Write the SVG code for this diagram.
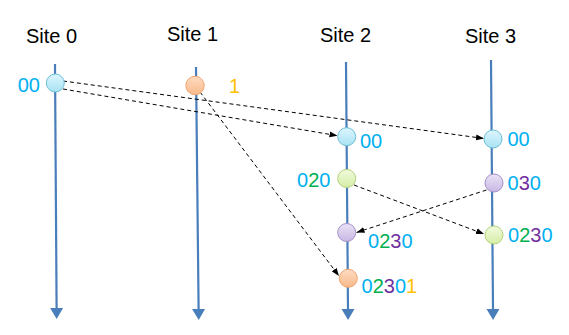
<svg xmlns="http://www.w3.org/2000/svg" width="569" height="335" viewBox="0 0 569 335">
<style>
.title{font-family:"Liberation Sans",Arial,sans-serif;font-size:20px;fill:#000}
.lbl{font-family:"Liberation Sans",Arial,sans-serif;font-size:20px}
.c0{fill:#00B0F0}.c1{fill:#FFC000}.c2{fill:#00B050}.c3{fill:#7030A0}
.tl{stroke:#4A7EBB;stroke-width:2.2;fill:none;marker-end:url(#blueArrow)}
.msg{stroke:#000;stroke-width:1;stroke-dasharray:4 3;fill:none;marker-end:url(#blackArrow)}
.nb{fill:url(#gBlue);stroke:#6CBFD6;stroke-width:1}
.no{fill:url(#gOrange);stroke:#F2A46E;stroke-width:1}
.ng{fill:url(#gGreen);stroke:#B2D27A;stroke-width:1}
.np{fill:url(#gPurple);stroke:#A58FC8;stroke-width:1}
</style>
<defs>
<marker id="blueArrow" markerUnits="userSpaceOnUse" markerWidth="12" markerHeight="14" refX="0" refY="6.5" orient="auto" viewBox="0 0 12 13">
<path d="M0,0 L11,6.5 L0,13 z" fill="#4A7EBB"/>
</marker>
<marker id="blackArrow" markerUnits="userSpaceOnUse" markerWidth="9" markerHeight="7" refX="8" refY="3" orient="auto" viewBox="0 0 9 6">
<path d="M0,0 L8,3 L0,6 z" fill="#000"/>
</marker>
<linearGradient id="gBlue" x1="0" y1="0" x2="0" y2="1"><stop offset="0" stop-color="#DDF6FD"/><stop offset="1" stop-color="#A9E2F3"/></linearGradient>
<linearGradient id="gOrange" x1="0" y1="0" x2="0" y2="1"><stop offset="0" stop-color="#FDDCC3"/><stop offset="1" stop-color="#F9B98A"/></linearGradient>
<linearGradient id="gGreen" x1="0" y1="0" x2="0" y2="1"><stop offset="0" stop-color="#F2FBDE"/><stop offset="1" stop-color="#D5EDA6"/></linearGradient>
<linearGradient id="gPurple" x1="0" y1="0" x2="0" y2="1"><stop offset="0" stop-color="#EAE3F6"/><stop offset="1" stop-color="#C7B7E3"/></linearGradient>
</defs>
<rect width="569" height="335" fill="#fff"/>

<g id="site0">
<text class="title" x="26" y="43">Site 0</text>
<line class="tl" x1="55" y1="64" x2="56.6" y2="308"/>
</g>
<g id="site1">
<text class="title" x="167" y="41">Site 1</text>
<line class="tl" x1="196" y1="67" x2="198.6" y2="309"/>
</g>
<g id="site2">
<text class="title" x="320" y="42">Site 2</text>
<line class="tl" x1="346" y1="62" x2="348" y2="309"/>
</g>
<g id="site3">
<text class="title" x="465" y="43">Site 3</text>
<line class="tl" x1="491" y1="60" x2="493" y2="309"/>
</g>

<g id="connectors">
<line class="msg" x1="63" y1="81" x2="484" y2="138.5"/>
<line class="msg" x1="63" y1="89" x2="337.5" y2="135.7"/>
<line class="msg" x1="200" y1="92" x2="339" y2="276"/>
<line class="msg" x1="354" y1="185" x2="484" y2="234"/>
<line class="msg" x1="486.5" y1="190" x2="356.5" y2="232.5"/>
</g>

<g id="e0">
<circle class="nb" cx="55.3" cy="83" r="9"/>
<text class="lbl c0" x="40" y="92" text-anchor="end">00</text>
</g>
<g id="e1">
<circle class="no" cx="195" cy="85.5" r="9.2"/>
<text class="lbl c1" x="229" y="93">1</text>
</g>
<g id="e2a">
<circle class="nb" cx="346.7" cy="136.7" r="9"/>
<text class="lbl c0" x="360" y="148">00</text>
</g>
<g id="e2b">
<circle class="ng" cx="346.7" cy="178.5" r="9"/>
<text class="lbl" x="297" y="186.5"><tspan class="c0">0</tspan><tspan class="c2">2</tspan><tspan class="c0">0</tspan></text>
</g>
<g id="e2c">
<circle class="np" cx="346.7" cy="232.5" r="9"/>
<text class="lbl" x="368" y="248"><tspan class="c0">0</tspan><tspan class="c2">2</tspan><tspan class="c3">3</tspan><tspan class="c0">0</tspan></text>
</g>
<g id="e2d">
<circle class="no" cx="348.3" cy="278.3" r="9"/>
<text class="lbl" x="361.5" y="292.5"><tspan class="c0">0</tspan><tspan class="c2">2</tspan><tspan class="c3">3</tspan><tspan class="c0">0</tspan><tspan class="c1">1</tspan></text>
</g>
<g id="e3a">
<circle class="nb" cx="493" cy="139" r="9"/>
<text class="lbl c0" x="507.5" y="146">00</text>
</g>
<g id="e3b">
<circle class="np" cx="494" cy="183" r="9"/>
<text class="lbl" x="507.5" y="190"><tspan class="c0">0</tspan><tspan class="c3">3</tspan><tspan class="c0">0</tspan></text>
</g>
<g id="e3c">
<circle class="ng" cx="494" cy="235" r="9"/>
<text class="lbl" x="508" y="242"><tspan class="c0">0</tspan><tspan class="c2">2</tspan><tspan class="c3">3</tspan><tspan class="c0">0</tspan></text>
</g>
</svg>
